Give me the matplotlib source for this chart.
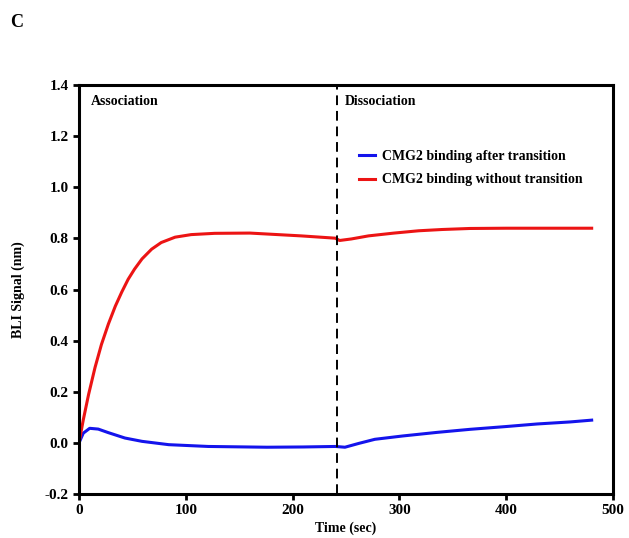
import numpy as np
import matplotlib
matplotlib.use("Agg")
import matplotlib.pyplot as plt

plt.rcParams['font.family'] = ['Liberation Serif', 'DejaVu Serif']
plt.rcParams['font.weight'] = 'bold'

# BLI sensorgram values
time_red = [0, 4, 9, 15, 21, 27.5, 34, 40, 46, 52, 59, 68, 77, 90, 105, 127, 160,
            208, 240, 244, 255, 271, 295, 318, 340, 366, 400, 430, 460, 480]
sig_red = [0.0, 0.09, 0.19, 0.295, 0.385, 0.465, 0.535, 0.59, 0.64, 0.68, 0.72,
           0.758, 0.784, 0.805, 0.815, 0.82, 0.821, 0.81, 0.801, 0.792, 0.798,
           0.81, 0.821, 0.83, 0.835, 0.839, 0.84, 0.84, 0.84, 0.84]

time_blue = [0, 4, 10, 18, 27.5, 43, 59, 84, 121, 176, 210, 240, 249, 262, 277,
             303, 335, 366, 400, 429, 460, 480]
sig_blue = [0.0, 0.038, 0.057, 0.054, 0.04, 0.019, 0.006, -0.007, -0.014, -0.017,
            -0.016, -0.014, -0.017, -0.002, 0.014, 0.027, 0.041, 0.053, 0.064,
            0.074, 0.082, 0.089]

t_switch = 242
x_ticks = [0, 100, 200, 300, 400, 500]
y_ticks = [-0.2, 0.0, 0.2, 0.4, 0.6, 0.8, 1.0, 1.2, 1.4]

fig = plt.figure(figsize=(6.29, 5.38), dpi=100)
ax = fig.add_axes([0.1256, 0.0818, 0.849, 0.760])

ax.plot(time_blue, sig_blue, color='#1414ec', lw=2.2, label='CMG2 binding after transition')
ax.plot(time_red, sig_red, color='#ec1414', lw=2.2, label='CMG2 binding without transition')
ax.axvline(t_switch, color='black', ls=(0, (5, 3)), lw=1.4)

ax.set_xlim(0, 500)
ax.set_ylim(-0.2, 1.4)
ax.set_xticks(x_ticks)
ax.set_yticks(y_ticks)
ax.set_yticklabels([f'{v:.1f}' for v in y_ticks])
ax.tick_params(direction='out', length=4, width=2, labelsize=11)
for s in ax.spines.values():
    s.set_linewidth(2.2)

ax.set_xlabel('Time (sec)', fontsize=10, fontweight='bold', labelpad=3)
ax.set_ylabel('BLI Signal (nm)', fontsize=10, fontweight='bold', labelpad=14)

ax.text(0.022, 0.975, 'Association', transform=ax.transAxes, fontsize=10,
        fontweight='bold', va='top')
ax.text(0.497, 0.975, 'Dissociation', transform=ax.transAxes, fontsize=10,
        fontweight='bold', va='top')

ax.legend(loc='upper left', bbox_to_anchor=(0.5, 0.873), frameon=False,
          prop={'size': 10, 'weight': 'bold'}, handlelength=1.2,
          handletextpad=0.5, labelspacing=0.78)

fig.text(0.016, 0.958, 'C', fontsize=13, fontweight='bold', va='center')

fig.savefig('out.png', dpi=100)
